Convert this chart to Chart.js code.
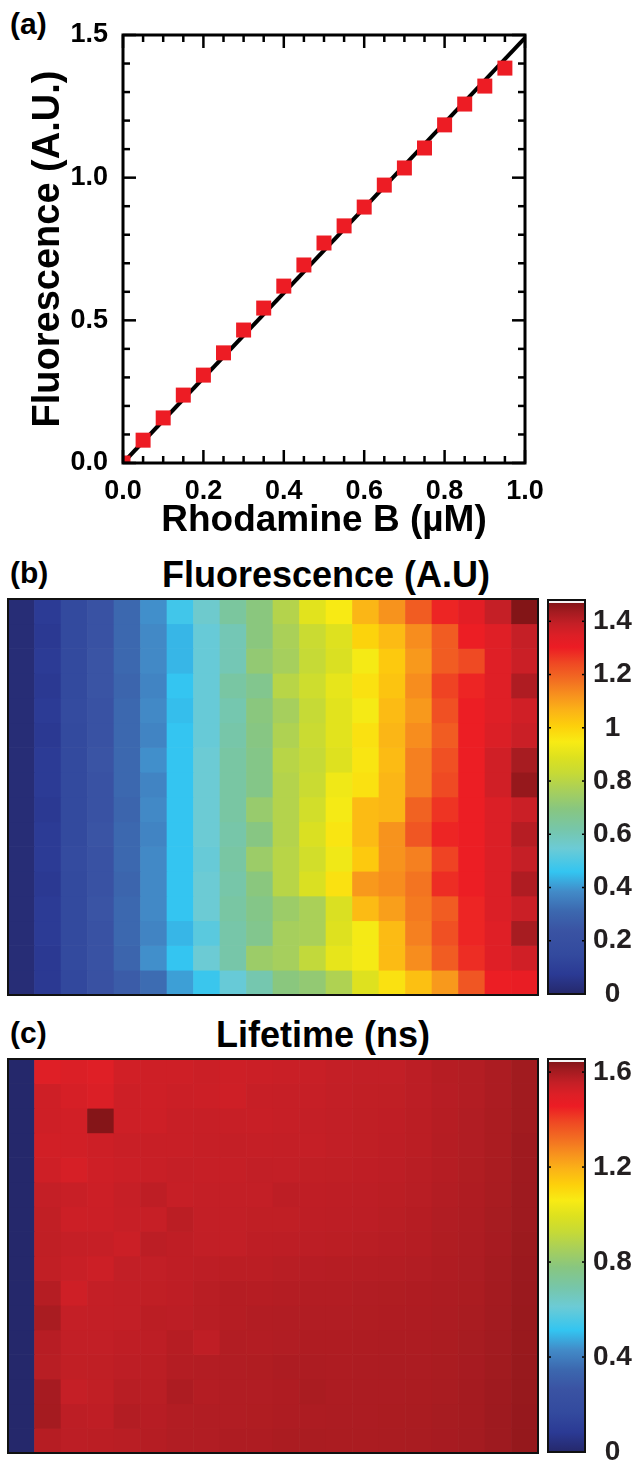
<!DOCTYPE html>
<html>
<head>
<meta charset="utf-8">
<script src="https://cdn.jsdelivr.net/npm/chart.js@4.4.0/dist/chart.umd.min.js"></script>
<style>
  html, body { margin: 0; padding: 0; background: #fff; }
  body { width: 637px; height: 1461px; position: relative; overflow: hidden;
         font-family: "Liberation Sans", Arial, sans-serif; font-weight: bold; color: #000; }
  canvas { position: absolute; }
  .lbl { position: absolute; white-space: nowrap; line-height: 1; }
  .ttl { position: absolute; white-space: nowrap; line-height: 1; transform: translateX(-50%); }
</style>
</head>
<body>
<div class="lbl" style="left:10px; top:9px; font-size:30px;">(a)</div>
<div class="lbl" style="left:10px; top:558px; font-size:30px;">(b)</div>
<div class="ttl" style="left:326px; top:557px; font-size:36px;">Fluorescence (A.U)</div>
<div class="lbl" style="left:10px; top:1018px; font-size:30px;">(c)</div>
<div class="ttl" style="left:323px; top:1017px; font-size:36px;">Lifetime (ns)</div>

<canvas id="chartA" width="637" height="546" style="left:0; top:0;"></canvas>
<canvas id="mapB" width="545" height="410" style="left:0; top:590px;"></canvas>
<canvas id="barB" width="97" height="416" style="left:540px; top:590px;"></canvas>
<canvas id="mapC" width="545" height="408" style="left:0; top:1050px;"></canvas>
<canvas id="barC" width="97" height="412" style="left:540px; top:1049px;"></canvas>

<script>
// ---- panel (a): calibration ----
const concUM = [0, 0.05, 0.1, 0.15, 0.2, 0.25, 0.3, 0.35, 0.4, 0.45,
                0.5, 0.55, 0.6, 0.65, 0.7, 0.75, 0.8, 0.85, 0.9, 0.95];
const fluorAU = [0.0, 0.08, 0.158, 0.238, 0.308, 0.386, 0.466, 0.543, 0.62, 0.694,
                 0.771, 0.831, 0.897, 0.974, 1.034, 1.104, 1.185, 1.258, 1.321, 1.384];
const fitX = [0, 1.0];
const fitY = [0, 1.49];
const xTicksA = [0, 0.2, 0.4, 0.6, 0.8, 1.0];
const yTicksA = [0, 0.5, 1.0, 1.5];

// ---- panel (b): fluorescence map, 16 rows x 20 columns (top row first) ----
const fluorMap = [
  [0.02, 0.08, 0.15, 0.23, 0.31, 0.39, 0.48, 0.56, 0.64, 0.70, 0.79, 0.90, 0.95, 1.06, 1.12, 1.21, 1.29, 1.33, 1.39, 1.47],
  [0.02, 0.07, 0.15, 0.23, 0.31, 0.38, 0.44, 0.54, 0.60, 0.70, 0.77, 0.84, 0.89, 1.00, 1.05, 1.13, 1.21, 1.30, 1.34, 1.39],
  [0.02, 0.08, 0.15, 0.24, 0.31, 0.38, 0.44, 0.54, 0.60, 0.72, 0.76, 0.83, 0.88, 0.94, 1.02, 1.11, 1.21, 1.24, 1.34, 1.38],
  [0.02, 0.07, 0.15, 0.24, 0.30, 0.37, 0.46, 0.54, 0.63, 0.67, 0.80, 0.85, 0.91, 0.97, 1.03, 1.13, 1.25, 1.29, 1.34, 1.42],
  [0.02, 0.08, 0.16, 0.23, 0.31, 0.38, 0.45, 0.54, 0.61, 0.70, 0.76, 0.83, 0.90, 0.94, 1.05, 1.11, 1.23, 1.30, 1.34, 1.37],
  [0.02, 0.07, 0.15, 0.23, 0.31, 0.37, 0.46, 0.54, 0.62, 0.69, 0.78, 0.84, 0.90, 0.97, 1.06, 1.13, 1.21, 1.30, 1.35, 1.38],
  [0.02, 0.08, 0.15, 0.24, 0.31, 0.39, 0.46, 0.55, 0.63, 0.68, 0.80, 0.83, 0.89, 0.96, 1.05, 1.15, 1.23, 1.30, 1.37, 1.43],
  [0.02, 0.08, 0.15, 0.23, 0.31, 0.37, 0.46, 0.55, 0.63, 0.68, 0.79, 0.84, 0.93, 0.97, 1.06, 1.15, 1.24, 1.30, 1.37, 1.45],
  [0.02, 0.07, 0.15, 0.23, 0.30, 0.38, 0.46, 0.55, 0.63, 0.73, 0.79, 0.86, 0.94, 1.05, 1.06, 1.20, 1.27, 1.30, 1.35, 1.38],
  [0.02, 0.08, 0.15, 0.24, 0.31, 0.37, 0.46, 0.55, 0.62, 0.69, 0.79, 0.88, 0.96, 1.05, 1.12, 1.22, 1.29, 1.30, 1.35, 1.41],
  [0.02, 0.08, 0.16, 0.23, 0.31, 0.38, 0.46, 0.54, 0.63, 0.74, 0.80, 0.86, 0.93, 1.02, 1.12, 1.15, 1.25, 1.30, 1.35, 1.39],
  [0.02, 0.07, 0.15, 0.23, 0.30, 0.38, 0.46, 0.55, 0.62, 0.70, 0.80, 0.88, 0.97, 1.11, 1.13, 1.17, 1.28, 1.30, 1.35, 1.42],
  [0.02, 0.08, 0.15, 0.24, 0.31, 0.38, 0.46, 0.55, 0.63, 0.68, 0.74, 0.77, 0.88, 1.05, 1.10, 1.16, 1.21, 1.29, 1.35, 1.38],
  [0.02, 0.08, 0.15, 0.23, 0.31, 0.37, 0.44, 0.52, 0.62, 0.67, 0.76, 0.77, 0.89, 0.94, 1.05, 1.15, 1.23, 1.29, 1.34, 1.43],
  [0.02, 0.07, 0.15, 0.23, 0.30, 0.39, 0.46, 0.55, 0.62, 0.74, 0.76, 0.82, 0.91, 0.94, 1.05, 1.13, 1.21, 1.28, 1.34, 1.37],
  [0.02, 0.07, 0.14, 0.22, 0.27, 0.32, 0.41, 0.47, 0.54, 0.61, 0.70, 0.72, 0.78, 0.89, 0.97, 1.04, 1.11, 1.22, 1.30, 1.31]
];
const cbTicksB = [0, 0.2, 0.4, 0.6, 0.8, 1.0, 1.2, 1.4];
const cbMaxB = 1.48;

// ---- panel (c): lifetime map, 16 rows x 20 columns ----
const lifetimeMap = [
  [0, 1.500, 1.510, 1.500, 1.530, 1.535, 1.536, 1.542, 1.538, 1.542, 1.545, 1.547, 1.556, 1.558, 1.558, 1.567, 1.577, 1.582, 1.592, 1.608],
  [0, 1.535, 1.520, 1.510, 1.538, 1.536, 1.542, 1.540, 1.535, 1.549, 1.552, 1.552, 1.557, 1.560, 1.561, 1.567, 1.575, 1.582, 1.592, 1.608],
  [0, 1.535, 1.530, 1.642, 1.538, 1.538, 1.547, 1.549, 1.549, 1.548, 1.552, 1.556, 1.558, 1.561, 1.563, 1.569, 1.577, 1.584, 1.594, 1.608],
  [0, 1.530, 1.530, 1.538, 1.545, 1.547, 1.548, 1.552, 1.555, 1.554, 1.556, 1.554, 1.558, 1.561, 1.564, 1.569, 1.579, 1.584, 1.594, 1.610],
  [0, 1.536, 1.520, 1.535, 1.542, 1.547, 1.553, 1.552, 1.553, 1.558, 1.557, 1.560, 1.561, 1.563, 1.566, 1.572, 1.579, 1.586, 1.595, 1.610],
  [0, 1.556, 1.548, 1.540, 1.551, 1.564, 1.552, 1.556, 1.557, 1.557, 1.566, 1.563, 1.564, 1.566, 1.569, 1.574, 1.582, 1.587, 1.597, 1.612],
  [0, 1.560, 1.540, 1.542, 1.549, 1.552, 1.569, 1.557, 1.558, 1.561, 1.561, 1.564, 1.566, 1.567, 1.572, 1.577, 1.584, 1.589, 1.599, 1.612],
  [0, 1.561, 1.553, 1.551, 1.542, 1.567, 1.563, 1.558, 1.558, 1.564, 1.566, 1.567, 1.569, 1.572, 1.575, 1.579, 1.586, 1.590, 1.600, 1.614],
  [0, 1.560, 1.548, 1.540, 1.558, 1.558, 1.563, 1.566, 1.569, 1.569, 1.574, 1.575, 1.577, 1.579, 1.580, 1.583, 1.587, 1.592, 1.602, 1.615],
  [0, 1.579, 1.536, 1.556, 1.558, 1.561, 1.565, 1.572, 1.579, 1.577, 1.580, 1.582, 1.582, 1.584, 1.586, 1.587, 1.590, 1.594, 1.604, 1.616],
  [0, 1.597, 1.556, 1.557, 1.558, 1.569, 1.567, 1.574, 1.579, 1.583, 1.584, 1.584, 1.584, 1.586, 1.587, 1.589, 1.592, 1.597, 1.605, 1.617],
  [0, 1.575, 1.558, 1.558, 1.563, 1.566, 1.577, 1.563, 1.583, 1.582, 1.584, 1.587, 1.587, 1.589, 1.590, 1.590, 1.594, 1.599, 1.607, 1.618],
  [0, 1.574, 1.560, 1.561, 1.566, 1.569, 1.580, 1.582, 1.584, 1.586, 1.590, 1.590, 1.589, 1.590, 1.592, 1.592, 1.595, 1.600, 1.608, 1.619],
  [0, 1.601, 1.553, 1.560, 1.574, 1.572, 1.590, 1.580, 1.584, 1.584, 1.587, 1.595, 1.590, 1.592, 1.592, 1.594, 1.597, 1.602, 1.610, 1.620],
  [0, 1.602, 1.566, 1.563, 1.582, 1.575, 1.583, 1.584, 1.584, 1.586, 1.589, 1.590, 1.592, 1.592, 1.594, 1.595, 1.599, 1.603, 1.611, 1.621],
  [0, 1.577, 1.567, 1.569, 1.572, 1.579, 1.584, 1.584, 1.589, 1.589, 1.594, 1.595, 1.594, 1.594, 1.595, 1.597, 1.600, 1.604, 1.612, 1.622]
];
const cbTicksC = [0, 0.4, 0.8, 1.2, 1.6];
const cbMaxC = 1.655;

// colour map (fraction of range -> colour)
const cmapStops = [
  [0.00, '#25286b'], [0.05, '#2b3a94'], [0.10, '#334a9e'], [0.16, '#3a53a3'],
  [0.21, '#3c68af'], [0.26, '#428bc8'], [0.31, '#33c5f1'], [0.37, '#6ccbd5'],
  [0.42, '#77c6a8'], [0.47, '#88c680'], [0.52, '#aad058'], [0.56, '#c6da36'],
  [0.60, '#dde11f'], [0.64, '#f8eb14'], [0.68, '#fdd00b'], [0.72, '#fbb317'],
  [0.76, '#f7901e'], [0.80, '#f26b22'], [0.84, '#ef4823'], [0.88, '#ec1c24'],
  [0.91, '#dd1f26'], [0.94, '#c41f26'], [0.97, '#a31b20'], [1.00, '#7a1315']
];

function hexRgb(h) {
  return [1, 3, 5].map(i => parseInt(h.slice(i, i + 2), 16));
}

function cmapColor(f) {
  f = Math.max(0, Math.min(1, f));
  for (let i = 1; i < cmapStops.length; i++) {
    const [f1, c1] = cmapStops[i];
    if (f <= f1) {
      const [f0, c0] = cmapStops[i - 1];
      const t = (f - f0) / (f1 - f0);
      const a = hexRgb(c0), b = hexRgb(c1);
      const rgb = a.map((v, k) => Math.round(v + (b[k] - v) * t));
      return 'rgb(' + rgb.join(',') + ')';
    }
  }
  return cmapStops[cmapStops.length - 1][1];
}

function seg(ctx, x1, y1, x2, y2) {
  ctx.beginPath();
  ctx.moveTo(x1, y1);
  ctx.lineTo(x2, y2);
  ctx.stroke();
}

Chart.defaults.font.family = '"Liberation Sans", Arial, sans-serif';
Chart.defaults.font.weight = 'bold';
Chart.defaults.color = '#000';

// box with inward major/minor ticks on all four sides
const axisFrame = {
  id: 'axisFrame',
  afterDraw(chart) {
    const { ctx, chartArea: a, scales: { x, y } } = chart;
    ctx.save();
    ctx.strokeStyle = '#000';
    ctx.lineWidth = 2.5;
    for (let i = 0; i <= 20; i++) {
      const px = x.getPixelForValue(i * 0.05);
      const len = i % 4 === 0 ? 13 : 7;
      seg(ctx, px, a.bottom, px, a.bottom - len);
      seg(ctx, px, a.top, px, a.top + len);
    }
    for (let i = 0; i <= 15; i++) {
      const py = y.getPixelForValue(i * 0.1);
      const len = i % 5 === 0 ? 13 : 7;
      seg(ctx, a.left, py, a.left + len, py);
      seg(ctx, a.right, py, a.right - len, py);
    }
    ctx.lineWidth = 3;
    ctx.strokeRect(a.left, a.top, a.width, a.height);
    ctx.restore();
  }
};

const boxFrame = {
  id: 'boxFrame',
  afterDraw(chart) {
    const { ctx, chartArea: a } = chart;
    ctx.save();
    ctx.strokeStyle = '#111';
    ctx.lineWidth = 2;
    ctx.strokeRect(a.left, a.top, a.width, a.height);
    ctx.restore();
  }
};

const colorbarPlugin = {
  id: 'colorbar',
  beforeDatasetsDraw(chart) {
    const { ctx, chartArea: a, scales: { y } } = chart;
    const max = chart.options.plugins.colorbar.max;
    const y0 = y.getPixelForValue(0), y1 = y.getPixelForValue(max);
    const g = ctx.createLinearGradient(0, y0, 0, y1);
    cmapStops.forEach(([f, c]) => g.addColorStop(f, c));
    ctx.save();
    ctx.fillStyle = g;
    ctx.fillRect(a.left, y1, a.width, y0 - y1);
    // thin light strip along the top edge
    ctx.fillStyle = '#f4f4f4';
    ctx.fillRect(a.left, y1, a.width, 3);
    ctx.strokeStyle = '#000';
    ctx.lineWidth = 1.5;
    y.ticks.forEach(t => {
      if (t.value === 0) return;
      const py = y.getPixelForValue(t.value);
      seg(ctx, a.left, py, a.left + 3, py);
      seg(ctx, a.right, py, a.right - 3, py);
    });
    ctx.lineWidth = 2;
    ctx.strokeStyle = '#111';
    ctx.strokeRect(a.left, a.top, a.width, a.height);
    ctx.restore();
  }
};

// ---- chart (a) ----
new Chart(document.getElementById('chartA'), {
  type: 'scatter',
  data: {
    datasets: [
      {
        data: concUM.map((c, i) => ({ x: c, y: fluorAU[i] })),
        pointStyle: 'rect',
        pointRadius: 10.6,
        backgroundColor: '#ed1c24',
        borderWidth: 0,
        clip: 0,
        order: 0
      },
      {
        type: 'line',
        data: fitX.map((v, i) => ({ x: v, y: fitY[i] })),
        borderColor: '#000',
        borderWidth: 4,
        pointRadius: 0,
        order: 1
      }
    ]
  },
  options: {
    animation: false,
    responsive: false,
    events: [],
    layout: { padding: { left: 0, top: 35, right: 112, bottom: 3 } },
    plugins: { legend: { display: false }, tooltip: { enabled: false } },
    scales: {
      x: {
        type: 'linear', min: 0, max: 1.0,
        afterBuildTicks: s => { s.ticks = xTicksA.map(v => ({ value: v })); },
        afterFit: s => { s.height = 80; s.paddingLeft = 0; s.paddingRight = 0; },
        grid: { display: false, drawTicks: false },
        border: { display: false },
        ticks: { padding: 12, font: { size: 27, weight: 'bold' }, color: '#000',
                 callback: v => v.toFixed(1) },
        title: { display: true, text: 'Rhodamine B (\u00b5M)', color: '#000',
                 font: { size: 37, weight: 'bold' }, padding: { top: 0, bottom: 0 } }
      },
      y: {
        type: 'linear', min: 0, max: 1.5,
        afterBuildTicks: s => { s.ticks = yTicksA.map(v => ({ value: v })); },
        afterFit: s => { s.width = 123; s.paddingTop = 0; s.paddingBottom = 0; },
        grid: { display: false, drawTicks: false },
        border: { display: false },
        ticks: { padding: 15, font: { size: 27, weight: 'bold' }, color: '#000',
                 callback: v => v.toFixed(1) },
        title: { display: true, text: 'Fluorescence (A.U.)', color: '#000',
                 font: { size: 38, weight: 'bold' }, padding: { top: 26, bottom: 0 } }
      }
    }
  },
  plugins: [axisFrame]
});

// ---- heat maps ----
function heatmap(id, grid, cmapMax, pad) {
  new Chart(document.getElementById(id), {
    type: 'bar',
    data: {
      labels: grid[0].map((_, i) => i),
      datasets: grid.map((row, r) => ({
        data: row.map(() => [r, r + 1]),
        backgroundColor: row.map(v => cmapColor(v / cmapMax)),
        borderWidth: 0,
        barPercentage: 1,
        categoryPercentage: 1,
        grouped: false
      }))
    },
    options: {
      animation: false,
      responsive: false,
      events: [],
      layout: { padding: pad },
      plugins: { legend: { display: false }, tooltip: { enabled: false } },
      scales: {
        x: { display: false },
        y: { display: false, min: 0, max: grid.length, reverse: true }
      }
    },
    plugins: [boxFrame]
  });
}

function colorbar(id, max, ticks, pad) {
  new Chart(document.getElementById(id), {
    type: 'bar',
    data: { labels: [''], datasets: [{ data: [] }] },
    options: {
      animation: false,
      responsive: false,
      events: [],
      layout: { padding: pad },
      plugins: { legend: { display: false }, tooltip: { enabled: false }, colorbar: { max } },
      scales: {
        x: { display: false },
        y: {
          position: 'right', min: 0, max,
          afterBuildTicks: s => { s.ticks = ticks.map(v => ({ value: v })); },
          afterFit: s => { s.width = 52; s.paddingTop = 0; s.paddingBottom = 0; },
          grid: { display: false, drawTicks: false },
          border: { display: false },
          ticks: { padding: 8, crossAlign: 'center', color: '#231f20',
                   font: { size: 28, weight: 'bold' },
                   callback: v => String(Math.round(v * 10) / 10) }
        }
      }
    },
    plugins: [colorbarPlugin]
  });
}

heatmap('mapB', fluorMap, cbMaxB, { left: 8, right: 7, top: 9, bottom: 5 });
colorbar('barB', cbMaxB, cbTicksB, { left: 8, right: 0, top: 10, bottom: 12 });
heatmap('mapC', lifetimeMap, cbMaxC, { left: 8, right: 7, top: 9, bottom: 5 });
colorbar('barC', cbMaxC, cbTicksC, { left: 8, right: 0, top: 10, bottom: 9 });
</script>
</body>
</html>
